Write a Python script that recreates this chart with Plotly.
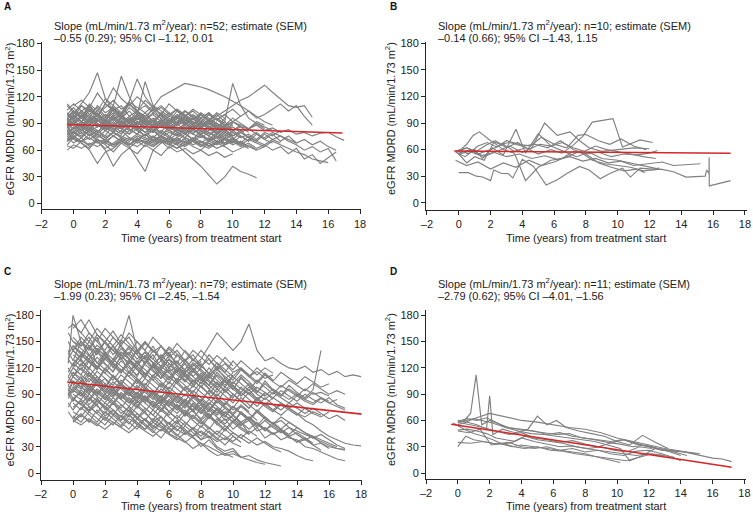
import plotly.graph_objects as go

# ---------------- data ----------------
X_TICK_VALUES = [-2, 0, 2, 4, 6, 8, 10, 12, 14, 16, 18]
X_TICK_LABELS = ["–2", "0", "2", "4", "6", "8", "10", "12", "14", "16", "18"]
Y_TICK_VALUES = [0, 30, 60, 90, 120, 150, 180]
Y_TICK_LABELS = ["0", "30", "60", "90", "120", "150", "180"]

PANEL_LETTERS = ["A", "B", "C", "D"]
SLOPE_LINE1 = [
    "Slope (mL/min/1.73 m<sup>2</sup>/year): n=52; estimate (SEM)",
    "Slope (mL/min/1.73 m<sup>2</sup>/year): n=10; estimate (SEM)",
    "Slope (mL/min/1.73 m<sup>2</sup>/year): n=79; estimate (SEM)",
    "Slope (mL/min/1.73 m<sup>2</sup>/year): n=11; estimate (SEM)",
]
SLOPE_LINE2 = [
    "–0.55 (0.29); 95% CI –1.12, 0.01",
    "–0.14 (0.66); 95% CI –1.43, 1.15",
    "–1.99 (0.23); 95% CI –2.45, –1.54",
    "–2.79 (0.62); 95% CI –4.01, –1.56",
]
X_TITLE = "Time (years) from treatment start"
Y_TITLE = "eGFR MDRD (mL/min/1.73 m<sup>2</sup>)"

# fitted mean slope lines (x endpoints, y endpoints)
RED_X = [[-0.42, 16.9], [-0.28, 17.1], [-0.36, 18.3], [-0.42, 17.2]]
RED_Y = [[88.9, 79.3], [58.4, 55.8], [103.9, 66.8], [55.6, 6.5]]

# Panel A: visit times (years) and per-patient eGFR values
GRID_A = [-0.4, 0.0, 0.5, 1.0, 1.5, 2.0, 2.5, 3.0, 3.5, 4.0, 4.5, 5.0, 5.5, 6.0,
          6.5, 7.0, 7.5, 8.0, 8.5, 9.0, 9.5, 10.0, 10.5, 11.0, 11.5, 12.0, 12.5,
          13.0, 13.5, 14.0, 14.5, 15.0, 15.5, 16.0, 16.5, 17.0]
PATIENTS_A = [
    [85, 92, 88, 95, 90, 84, 88, 93, 86, 90, 95, 88, 92, 85, 90, 94, 88, 86, 90, 84, 88, 92, 86, 84, 88, 82, 85, 80, 83, 78, 80, 76, 79, 80, 75, 71],
    [90, 100, 112, 125, 147, 118, 105, 110, 98, 104, 95, 100, 92, 98, 94, 88, 96, 90, 85, 92],
    [78, 72, 68, 60, 45, 58, 62, 70, 66, 72, 68, 75, 70, 66, 72, 68, 74, 70, 65, 70, 68, 72, 66],
    [95, 88, 100, 92, 105, 96, 110, 143, 120, 104, 98, 106, 95, 102, 90, 98, 94, 100, 92, 96, 88, 90],
    [70, 75, 82, 78, 70, 60, 42, 55, 62, 70, 64, 72, 68, 75, 70, 66, 72, 68, 74, 70, 66, 72, 68, 64],
    [100, 108, 96, 112, 104, 118, 110, 102, 115, 140, 120, 108, 100, 112, 104, 98, 106, 100, 94, 102, 96],
    [82, 78, 86, 80, 74, 82, 76, 70, 64, 50, 36, 60, 68, 72, 66, 74, 70, 64, 70, 66, 72, 68],
    [88, 94, 86, 92, 98, 90, 96, 88, 94, 100, 137, 110, 98, 92, 100, 94, 88, 96, 90, 86],
    [92, 98, 104, 96, 110, 102, 108, 100, 112, 104, 116, 108, 120, 125, 130, 135, 133, 131, 128, 124, 120, 115, 110, 104, 98, 92, 88],
    [78, 80, 74, 82, 76, 72, 80, 74, 70, 76, 72, 68, 74, 70, 66, 58, 50, 42, 32, 22, 30, 42, 36, 33, 29],
    [85, 90, 82, 88, 94, 86, 92, 84, 90, 96, 88, 94, 86, 92, 98, 90, 96, 88, 94, 100, 92, 135, 110, 96, 90, 84],
    [None, 98, 92, 100, 94, 88, 96, 90, 98, 92, 86, 94, 100, 92, 98, 104, 96, 100, 94, 98, 104, 110, 116, 120, 126, 133, 125, 118, 110, 108, 110, 97],
    [70, 74, 80, 72, 78, 70, 76, 82, 74, 70, 78, 72, 76, 70, 74, 68, 72, 66, 70, 74, 66, 70, 64, 68, 62, 66, 60, 64, 56, 62, 50, 55, 45, 52, 58],
    [90, 84, 92, 86, 80, 88, 82, 90, 84, 78, 86, 80, 88, 82, 76, 84, 78, 86, 80, 74, 82, 76, 80, 74, 70, 78, 72, 76, 70, 66, 60, 64, 58, 62, 48],
    [65, 62, 70, 66, 72, 68, 64, 70, 66, 72, 68, 64, 70, 62, 68, 64, 70, 66, 62, 68, 64, 58, 62, 66, 60, 64],
    [105, 112, 104, 110, 100, 108, 116, 106, 112, 104, 110, 102, 108, 100, 106, 98, 104, 96, 102, 94, 100, 92, 98],
    [None, 110, 116, 108, 124, 112, 130, 118, 110, 120, 112, 104, 110, 102, 96, 104, 98, 92, 100, 94],
    [80, 86, 78, 84, 90, 82, 88, 80, 86, 92, 84, 80, 88, 82, 78, 86, 80, 84, 78, 82, 76, 80, 74, 78, 72, 80, 76, 82],
    [96, 90, 98, 92, 86, 94, 88, 96, 90, 84, 92, 86, 94, 88, 82, 90, 84, 92, 86, 80, 88, 82, 86, 80],
    [72, 76, 70, 74, 68, 72, 66, 70, 74, 68, 72, 76, 70, 74, 68, 72, 66, 70, 64, 68, 72, 66, 70, 64, 60],
    [88, 100, 92, 106, 98, 112, 104, 96, 108, 100, 94, 102, 96, 90, 98, 92, 100, 94, 88, 96, 90],
    [None, 90, 86, 94, 88, 82, 90, 84, 92, 86, 80, 88, 94, 86, 92, 98, 90, 96, 102, 94, 100, 106, 98, 104, 96, 100, 106, 112, 104, 110, 98, 88],
    [76, 68, 74, 64, 70, 62, 68, 74, 66, 72, 78, 70, 76, 68, 74, 80, 72, 78, 70, 76, 68, 74, 66, 62],
    [92, 96, 90, 94, 88, 92, 86, 90, 94, 88, 92, 86, 90, 84, 88, 92, 86, 90, 84, 88, 82, 86, 80, 84, 78, 74, 80, 76, 72, 68, 72, 66, 70, 64, 60],
    [84, 80, 76, 82, 78, 74, 80, 76, 72, 78, 74, 70, 76, 72, 78, 74, 70, 76, 72, 68, 74, 70, 66, 72, 68, 64, 70, 66, 62, 58, 55, 50, 48, 46],
    [100, 94, 104, 98, 92, 100, 94, 88, 96, 90, 98, 92, 86, 94, 88, 96, 90, 84, 92, 86],
    [60, 66, 62, 68, 64, 70, 66, 72, 68, 64, 70, 66, 72, 68, 62, 66, 70, 64, 68, 62, 66, 70],
    [112, 104, 98, 106, 100, 94, 102, 96, 90, 98, 92, 86, 94, 88, 96, 90, 84, 92, 86, 90, 84, 88],
    [86, 92, 98, 90, 96, 88, 94, 100, 92, 98, 90, 96, 88, 94, 90, 96, 92, 88, 94, 90, 86, 92, 88, 84, 90, 86, 82],
    [70, 78, 84, 76, 82, 74, 80, 86, 78, 84, 76, 82, 74, 80, 76, 82, 78, 74, 80, 76, 72, 78],
    [94, 102, 110, 100, 108, 98, 106, 96, 104, 94, 102, 92, 100, 90, 98, 88, 96, 86, 94, 84, 92, 82, 88],
    [80, 84, 88, 82, 86, 90, 84, 88, 82, 86, 80, 84, 78, 82, 86, 80, 84, 78, 82, 86, 80, 76],
    [98, 104, 96, 110, 100, 92, 106, 98, 112, 102, 94, 108, 100, 92, 104, 96, 88, 100, 92, 84, 96],
    [75, 82, 90, 84, 78, 86, 80, 74, 82, 88, 80, 74, 82, 76, 70, 78, 84, 76, 70, 78, 72],
    [110, 102, 96, 104, 98, 90, 100, 94, 86, 96, 90, 82, 92, 86, 80, 88, 82, 90, 84, 78, 86, 80, 74],
    [82, 90, 96, 88, 102, 94, 86, 98, 90, 82, 94, 86, 80, 92, 84, 78, 88, 82, 76, 84, 78, 72, 80, 74, 70],
    [66, 74, 68, 62, 72, 66, 58, 68, 62, 56, 66, 60, 54, 64, 58, 62, 56, 60, 54, 58, 52, 56],
    [94, 88, 82, 96, 90, 84, 98, 92, 86, 100, 94, 88, 102, 96, 90, 104, 98, 92, 100, 94, 88, 96, 90, 84, 92, 88],
    [86, 80, 74, 88, 82, 76, 90, 84, 78, 92, 86, 80, 94, 88, 82, 90, 84, 78, 86, 80, 74, 82, 76, 70, 78, 72, 68],
    [102, 96, 110, 104, 98, 112, 106, 100, 114, 108, 102, 110, 104, 98, 106, 100, 94, 102, 96, 90],
    [72, 80, 88, 82, 94, 86, 80, 92, 84, 78, 90, 82, 76, 86, 80, 74, 84, 78, 72, 80, 74, 68, 76, 70],
    [90, 96, 102, 94, 100, 92, 98, 90, 96, 88, 94, 86, 92, 84, 90, 82, 88, 80, 86, 78, 84, 76, 82, 74, 80, 72, 78, 70, 76, 68],
    [80, 74, 70, 78, 72, 68, 76, 70, 66, 74, 68, 64, 72, 66, 62, 70, 64, 60, 68, 62],
    [96, 104, 98, 108, 100, 94, 106, 98, 92, 104, 96, 90, 102, 94, 88, 98, 92, 86, 94, 88, 82, 90],
    [78, 84, 92, 86, 80, 90, 84, 78, 88, 82, 76, 86, 80, 74, 84, 78, 72, 82, 76, 70, 80, 74, 68, 76, 70, 66, 72, 68],
]

# Panel B: irregular visit times per patient
TIMES_B = [
    [0, 0.6, 1.1, 1.5, 2.0, 2.2, 2.7, 3.1, 3.4, 4.0, 4.7, 5.5, 6.2, 6.8, 7.6, 8.2, 8.9, 9.5, 10.3, 10.8, 11.4, 12.2, 12.6],
    [-0.2, 0.5, 1.2, 2, 2.8, 3.5, 4.2, 5, 5.8, 6.5, 7.2, 7.8, 8.4, 9.7, 10.3, 11.4, 12.2],
    [0, 0.8, 1.6, 2.4, 3.2, 4.0, 4.6, 5.4, 6.2, 7.0, 7.6, 8.2, 9.0, 10.0, 11.0, 12.0],
    [-0.2, 0.4, 1.0, 1.5, 2.1, 2.8, 3.6, 4.2, 5.0, 5.8, 6.6, 7.4, 8.2, 9.0, 10.0, 11.0, 12.0, 12.6],
    [0, 0.5, 0.9, 1.3, 2.0, 2.6, 3.2, 4.0, 4.8, 5.6, 6.4, 7.2, 8.0, 8.8, 9.6, 10.4, 11.2, 12.0, 12.5],
    [0, 0.7, 1.4, 2.2, 3.0, 3.8, 4.6, 5.4, 6.2, 7.0, 7.8, 8.6, 9.4, 10.2, 11.0, 11.8, 12.8, 13.5, 14.3, 15.2],
    [-0.2, 0.5, 1.2, 2.0, 2.8, 3.6, 4.4, 5.2, 6.0, 6.8, 7.6, 8.4, 9.2, 10.0, 10.8, 11.6, 12.7, 13.5, 14.3, 15.5, 15.6, 15.74, 15.75, 15.76, 17.1],
    [0, 0.6, 1.2, 1.8, 2.4, 3.0, 3.8, 4.5, 5.2, 6.0, 6.8, 7.5, 8.0, 8.8, 9.5, 10.2, 11.0, 11.8],
    [-0.1, 0.5, 1.0, 1.6, 2.2, 2.8, 3.5, 4.2, 5.0, 5.8, 6.5, 7.2, 8.0, 8.8, 9.6, 10.4, 11.2, 11.7],
    [0, 0.5, 1.1, 1.7, 2.3, 3.0, 3.7, 4.4, 5.1, 5.8, 6.5, 7.2, 7.9, 8.6, 9.3, 10.0, 10.8, 11.6, 12.4],
]
VALUES_B = [
    [34, 34, 30, 29, 25, 37, 33, 33, 28, 49, 41, 20, 26, 33, 41, 37, 27, 33, 39, 29, 39, 38, 39],
    [58, 62, 55, 60, 66, 58, 62, 55, 60, 56, 65, 75, 91, 95, 63, 71, 68],
    [56, 60, 52, 58, 64, 57, 62, 90, 76, 80, 70, 62, 58, 60, 62, 61],
    [57, 52, 60, 50, 62, 54, 83, 56, 78, 64, 58, 52, 57, 50, 48, 44, 40, 38],
    [58, 66, 76, 80, 70, 66, 68, 64, 66, 62, 70, 60, 55, 57, 52, 55, 54, 56, 59],
    [55, 58, 53, 57, 52, 55, 50, 53, 49, 52, 47, 50, 45, 47, 42, 44, 46, 42, 43, 44],
    [48, 42, 46, 38, 45, 40, 48, 42, 46, 52, 58, 48, 44, 42, 40, 36, 38, 35, 29, 30, 37, 33, 51, 19, 25],
    [60, 55, 64, 68, 63, 70, 66, 64, 74, 66, 62, 76, 77, 70, 66, 72, 64, 60],
    [57, 45, 52, 48, 68, 60, 56, 25, 40, 48, 50, 58, 55, 45, 40, 36, 38, 34],
    [58, 62, 58, 65, 70, 62, 68, 60, 66, 64, 68, 62, 58, 64, 60, 58, 55, 52, 50],
]

# Panel C: visit times (years) and per-patient eGFR values
GRID_C = [-0.3, 0.0, 0.5, 1.0, 1.5, 2.0, 2.5, 3.0, 3.5, 4.0, 4.5, 5.0, 5.5, 6.0,
          6.5, 7.0, 7.5, 8.0, 8.5, 9.0, 9.5, 10.0, 10.5, 11.0, 11.5, 12.0, 12.5,
          13.0, 13.5, 14.0, 14.5, 15.0, 15.5, 16.0, 16.5, 17.0, 17.5, 18.0]
PATIENTS_C = [
    [165, 170, 160, 175, 158, 150, 162, 148, 155, 140, 150, 138, 145, 132, 140, 128, 135, 122, 130, 118, 125, 115, 120, 110, 116, 108, 112],
    [125, 180, 150, 140, 155, 135, 145, 130, 138, 125, 132, 120, 128, 115, 122, 110, 118, 105, 112, 100],
    [None, 140, 130, 145, 125, 138, 120, 132, 115, 128, 112, 122, 108, 118, 104, 112, 100, 108, 96, 104, 92, 100, 88, 95, 85, 90],
    [110, 120, 112, 128, 118, 135, 125, 150, 180, 140, 130, 145, 128, 138, 122, 130, 118, 125, 112, 120, 108, 114],
    [None, 100, 110, 95, 105, 90, 98, 85, 92, 80, 88, 75, 82, 70, 78, 65, 72, 60, 68, 55, 62, 50, 58, 45, 52, 40, 46, 38, 42, 35, 38, 32, 34, 30, 28, 26],
    [95, 85, 92, 78, 86, 72, 80, 68, 75, 62, 70, 58, 65, 52, 60, 45, 50, 38, 42, 30, 25, 28, 18, 15, 12, 10],
    [90, 105, 98, 112, 100, 108, 95, 102, 90, 98, 85, 92, 80, 88, 75, 82, 70, 78, 65, 72, 60, 66, 55, 60, 48, 52, 45, 48, 40, 38, 30, 28, 24, 20, 16, 14],
    [130, 140, 132, 145, 136, 150, 140, 135, 142, 130, 138, 125, 132, 120, 128, 115, 122, 130, 145, 160, 150, 140, 150, 170, 140, 128, 132, 125, 120, 118, 122, 115, 118, 112, 116, 110, 112, 110],
    [None, 75, 82, 70, 78, 65, 72, 60, 68, 55, 62, 50, 58, 45, 40, 35, 42, 30, 38, 28, 22, 25, 18, 20, 15, 12, 10, 8],
    [None, 60, 68, 58, 72, 62, 55, 66, 58, 50, 62, 54, 48, 58, 50, 44, 52, 46, 40, 48, 42, 36, 44, 38, 32, 36, 30, 28, 25, 20, 16, 14],
    [140, 128, 150, 135, 120, 138, 125, 115, 130, 118, 108, 125, 112, 102, 118, 106, 98, 110, 100, 92, 105, 96, 88, 98, 90, 84, 92, 86, 80, 88, 82, 78, 85, 80, 76, 72],
    [None, 115, 105, 120, 110, 98, 112, 102, 95, 108, 98, 90, 102, 94, 86, 98, 90, 82, 94, 86, 78, 90, 82, 74, 86, 78, 72, 80, 74, 68, 60, 55, 48, 42, 38, 34, 32, 31],
    [85, 95, 88, 100, 92, 84, 96, 88, 80, 92, 84, 76, 88, 80, 72, 84, 76, 68, 80, 72, 64, 76, 68, 60, 72, 64, 56, 60, 52, 48, 44, 40, 36, 32, 28, 27],
    [None, 155, 145, 160, 150, 140, 155, 145, 135, 150, 140, 130, 145, 135, 125, 140, 130, 120, 135, 125, 115, 128, 118, 110, 120, 112, 105, 115, 108, 102, 110, 104, 98, 102],
    [100, 92, 104, 96, 88, 100, 92, 84, 96, 88, 80, 92, 84, 76, 88, 80, 72, 84, 76, 68, 80, 72, 76, 70],
    [None, 120, 130, 118, 140, 125, 115, 135, 122, 110, 128, 118, 108, 125, 115, 105, 120, 110, 100, 115, 105, 95, 110, 100, 92, 105, 95, 88, 100, 92, 86, 95, 140],
    [70, 62, 75, 66, 58, 70, 62, 54, 66, 58, 50, 62, 54, 46, 58, 50, 42, 54, 46, 38, 50, 42, 35],
    [None, 145, 135, 150, 140, 130, 145, 135, 125, 140, 130, 120, 135, 125, 115, 128, 118, 108, 120, 110, 100, 112],
    [105, 115, 108, 98, 110, 102, 94, 106, 98, 90, 102, 94, 86, 98, 90, 82, 94, 86, 78, 90, 82, 74, 86, 78, 70, 80, 72, 66, 74, 68, 64, 70, 66],
    [None, 80, 72, 85, 76, 68, 80, 72, 64, 76, 68, 60, 72, 64, 56, 68, 60, 52, 64, 56, 48, 58, 50, 44],
    [None, 165, 175, 160, 150, 165, 155, 145, 160, 150, 140, 155, 145, 135, 148, 138, 128, 140, 130, 120, 132, 122],
    [90, 82, 95, 86, 78, 90, 82, 74, 86, 78, 70, 82, 74, 66, 78, 70, 62, 74, 66, 58, 70, 62, 54, 64, 56, 48, 58, 50, 44, 52, 46, 40, 44, 38, 32, 28],
    [None, 130, 122, 135, 126, 118, 130, 122, 114, 126, 118, 110, 122, 114, 106, 118, 110, 102, 114, 106, 98, 110, 102, 94, 106, 98, 90, 100, 94, 88, 96, 90, 92, 88],
    [120, 110, 125, 115, 105, 120, 110, 100, 115, 105, 95, 110, 100, 90, 105, 95, 85, 100, 90, 80, 95, 85],
    [None, 65, 58, 70, 62, 55, 66, 58, 50, 62, 54, 46, 58, 50, 42, 54, 46, 38, 48, 40, 32, 42, 35],
    [75, 85, 78, 70, 82, 74, 66, 78, 70, 62, 74, 66, 58, 70, 62, 54, 66, 58, 50, 62, 54],
    [None, 110, 102, 115, 106, 98, 110, 102, 94, 106, 98, 90, 102, 94, 86, 98, 90, 82, 94, 86, 78, 90, 82, 74, 84, 76, 70, 78, 72, 66, 74, 68, 64, 70],
    [150, 140, 155, 145, 135, 150, 140, 130, 145, 135, 125, 140, 130, 120, 135, 125, 115, 128],
    [None, 95, 88, 100, 92, 84, 96, 88, 80, 92, 84, 76, 88, 80, 72, 84, 76, 68, 80, 72, 64, 76, 68, 60, 70, 62, 56, 64, 58, 52],
    [None, 85, 78, 72, 84, 76, 68, 60, 72, 64, 56, 48, 40, 52, 44, 36, 28, 34, 26, 20, 22, 18],
    [115, 125, 118, 110, 122, 114, 106, 118, 110, 102, 114, 106, 98, 110, 102, 94, 106, 98, 90, 102, 94, 86, 98, 90, 82, 92, 84],
    [None, 135, 128, 120, 132, 124, 116, 128, 120, 112, 124, 116, 108, 120, 112, 104, 116, 108, 100, 112, 104, 96, 108, 100, 92, 102, 94, 88, 96, 90, 84, 92, 86, 80, 84],
    [95, 105, 98, 90, 102, 94, 86, 98, 90, 82, 94, 86, 78, 90, 82, 74, 86, 78, 70, 82, 74],
    [None, 60, 55, 62, 56, 50, 58, 52, 46, 54, 48, 42, 50, 44, 38, 46, 40, 34, 30, 25, 20, 22, 18],
    [None, 170, 160, 150, 165, 155, 145, 158, 148, 138, 150, 140, 130, 142, 132],
    [88, 98, 90, 82, 94, 86, 78, 90, 82, 74, 86, 78, 70, 82, 74, 66, 78, 70, 62, 74, 66, 58, 70, 62, 54, 64, 56, 50, 58, 52, 46, 42, 38, 34, 30],
    [None, 125, 118, 130, 122, 114, 126, 118, 110, 122, 114, 106, 118, 110, 102, 114, 106, 98, 110, 102, 94, 104, 96, 90, 98, 92, 86, 94, 88, 82, 90, 84, 80, 86, 78, 74],
    [None, 105, 98, 92, 104, 96, 88, 100, 92, 84, 96, 88, 80, 92, 84, 76, 88, 80, 72, 84, 76, 68, 78, 70],
    [80, 72, 84, 76, 68, 80, 72, 64, 76, 68, 60, 72, 64, 56, 66, 58, 50, 60, 52, 44, 54, 46, 40, 48, 42],
    [None, 145, 138, 130, 142, 134, 126, 138, 130, 122, 134, 126, 118, 130, 122, 114, 126, 118, 110, 122, 114, 106, 118, 110, 102, 112, 104, 98, 106, 100, 94, 102, 96, 90, 94, 90],
    [None, 150, 142, 134, 146, 138, 130, 142, 134, 126, 138, 130, 122, 134, 126, 118, 130, 122, 114, 126, 118, 110, 120, 112, 104, 114, 106],
    [None, 100, 92, 84, 96, 88, 80, 92, 84, 76, 88, 80, 72, 84, 76, 68, 80, 72, 64, 74, 66, 58, 68, 60, 52, 60, 52, 46, 52, 44, 38, 42, 34, 28],
    [130, 122, 135, 126, 118, 130, 122, 114, 126, 118, 110, 122, 114, 106, 118, 110, 102, 112, 104, 96, 106, 98, 90],
    [None, 90, 84, 96, 88, 80, 92, 84, 76, 88, 80, 72, 84, 76, 68, 78, 70, 62, 72, 64, 56, 66, 58, 50, 58, 50, 44, 50, 42, 36, 40, 32, 26],
    [None, 120, 112, 104, 116, 108, 100, 112, 104, 96, 108, 100, 92, 104, 96, 88, 100, 92, 84, 96, 88, 80, 92, 84, 76, 86, 78, 72, 80, 74, 68, 74, 68, 62, 66, 60],
    [160, 150, 145, 155, 140, 150, 135, 145, 130, 140, 125, 135, 120, 130, 115, 125, 110, 120],
    [None, 70, 64, 76, 68, 60, 72, 64, 56, 68, 60, 52, 64, 56, 48, 58, 50, 42, 52, 44, 38, 46, 40, 34, 40, 34, 28, 24],
    [None, 110, 120, 112, 104, 118, 110, 102, 116, 108, 100, 112, 104, 96, 108, 100, 92, 104, 96, 88, 98, 90, 82, 92, 84, 78, 86, 80, 74, 80, 74, 68],
    [135, 145, 138, 130, 142, 134, 126, 138, 130, 122, 134, 126, 118, 130, 122, 114, 124, 116, 108, 118, 110, 102, 112, 104, 96],
    [None, 85, 78, 90, 82, 75, 86, 78, 70, 82, 74, 66, 78, 70, 62, 72, 64, 56, 66, 58, 50, 60, 52, 46],
    [None, 125, 135, 128, 120, 132, 124, 116, 128, 120, 112, 124, 116, 108, 120, 112, 104, 114, 106, 98, 108, 100, 92, 102, 94, 88, 96, 90, 84, 90, 84, 80, 86, 82],
    [100, 110, 102, 94, 106, 98, 90, 102, 94, 86, 98, 90, 82, 94, 86, 78, 88, 80, 72, 82, 74, 66, 76, 68, 60],
    [None, 140, 150, 142, 158, 148, 140, 152, 144, 136, 148, 140, 132, 144, 136, 128, 140, 132, 124, 134, 126, 118, 128, 120, 112, 120, 114],
    [None, 58, 66, 60, 54, 64, 58, 52, 62, 56, 50, 58, 52, 46, 54, 48, 42, 48, 42, 36, 40, 34, 30],
    [110, 102, 96, 108, 100, 92, 104, 96, 88, 100, 92, 84, 96, 88, 80, 90, 82, 74, 84, 76, 68, 76, 68, 62, 70, 62, 56],
    [None, 95, 105, 98, 90, 102, 94, 86, 98, 90, 82, 94, 86, 78, 88, 80, 72, 82, 74, 66, 74, 66, 58, 64, 56, 50, 54, 48, 42, 46, 40, 34],
]

# Panel D: irregular visit times per patient
TIMES_D = [
    [0, 1, 2, 3, 4, 5, 6, 7, 8, 9, 10, 11, 12, 13, 14, 15, 16, 16.6, 17.2],
    [0, 0.4, 0.8, 1.15, 1.5, 2.0, 2.6, 3.2, 4.0, 4.8, 5.6, 6.4, 7.2, 8.0, 8.8, 9.6, 10.4, 11.2, 12.0, 12.8, 13.6, 14.4, 15.2],
    [0, 0.6, 1.2, 1.8, 2.0, 2.2, 2.8, 3.6, 4.4, 5.0, 5.6, 6.2, 6.8, 7.6, 8.4, 9.2, 10.0, 10.8, 11.6, 12.4, 13.2],
    [0, 0.5, 1.0, 1.6, 2.2, 2.8, 3.4, 4.0, 4.8, 5.6, 6.4, 7.2, 8.0, 8.8, 9.6, 10.2],
    [0, 0.8, 1.6, 2.4, 3.2, 4.0, 4.8, 5.6, 6.4, 7.2, 8.0, 8.8, 9.6, 10.4, 11.2, 12.0, 12.8, 13.5, 14.0],
    [0, 0.6, 1.2, 1.8, 2.4, 3.0, 3.6, 4.2, 5.0, 5.8, 6.6, 7.4, 8.2, 9.0, 9.8, 10.6, 11.4, 12.2],
    [0, 0.5, 1.0, 1.5, 2.0, 2.5, 3.0, 3.8, 4.6, 5.4, 6.2, 7.0, 7.8, 8.6, 9.4, 10.2, 11.0, 11.8, 12.6, 13.4, 14.2, 15.0],
    [-0.3, 0.4, 1.0, 1.6, 2.2, 2.8, 3.4, 4.0, 4.8, 5.6, 6.4, 7.2, 8.0, 8.8, 9.6, 10.4, 11.2, 12.0, 12.8, 13.6],
    [0, 0.6, 1.2, 1.8, 2.4, 3.0, 3.8, 4.6, 5.4, 6.2, 7.0, 7.8, 8.6, 9.4, 10.2, 10.8, 11.6, 12.4, 13.2, 14.0],
    [0, 0.7, 1.4, 2.1, 2.8, 3.5, 4.2, 5.0, 5.8, 6.6, 7.4, 8.2, 9.0, 9.8, 10.6, 11.4, 12.2, 13.0],
    [0, 0.8, 1.6, 2.4, 3.2, 4.0, 4.8, 5.6, 6.4, 7.2, 8.0, 8.8, 9.6, 10.4, 11.2, 12.0, 12.8, 13.6, 14.4],
]
VALUES_D = [
    [58, 62, 68, 64, 60, 58, 55, 52, 50, 46, 40, 36, 32, 28, 25, 21, 17, 16, 13],
    [57, 60, 68, 112, 55, 60, 56, 52, 50, 48, 44, 46, 42, 40, 38, 36, 38, 34, 30, 26, 25, 24, 22],
    [60, 58, 55, 50, 88, 44, 50, 46, 50, 65, 55, 60, 52, 48, 45, 42, 36, 32, 43, 35, 28],
    [30, 42, 38, 36, 34, 33, 30, 32, 30, 28, 26, 24, 22, 18, 15, 12],
    [35, 34, 36, 33, 35, 30, 28, 30, 26, 28, 24, 26, 22, 20, 25, 26, 22, 18, 14],
    [49, 50, 48, 45, 40, 38, 36, 42, 38, 36, 34, 30, 28, 30, 26, 24, 30, 28],
    [55, 58, 62, 60, 58, 55, 52, 50, 48, 46, 44, 45, 40, 38, 35, 33, 30, 32, 28, 26, 24, 22],
    [57, 50, 45, 42, 38, 33, 35, 40, 36, 33, 30, 31, 28, 26, 24, 22, 20, 22, 20, 18],
    [59, 62, 60, 63, 58, 52, 48, 45, 44, 42, 40, 38, 36, 32, 28, 14, 20, 28, 25, 20],
    [48, 46, 50, 32, 34, 30, 28, 30, 26, 25, 22, 20, 18, 16, 14, 18, 22, 20],
    [58, 55, 52, 48, 44, 46, 40, 38, 35, 37, 33, 30, 34, 38, 33, 30, 27, 24, 20],
]

# ---------------- figure ----------------
W, H = 753, 517
FONT = "Liberation Sans, Arial, Helvetica, sans-serif"
GREY = "rgb(128,128,128)"
RED = "rgb(214,38,40)"
AX = "#262626"


def join_grid(grid, patients):
    xs, ys = [], []
    for vals in patients:
        for t, v in zip(grid, vals):
            xs.append(t)
            ys.append(v)
        xs.append(None)
        ys.append(None)
    return xs, ys


def join_irregular(times, values):
    xs, ys = [], []
    for ts, vs in zip(times, values):
        xs.extend(ts)
        ys.extend(vs)
        xs.append(None)
        ys.append(None)
    return xs, ys


panel_lines = [
    join_grid(GRID_A, PATIENTS_A),
    join_irregular(TIMES_B, VALUES_B),
    join_grid(GRID_C, PATIENTS_C),
    join_irregular(TIMES_D, VALUES_D),
]

# plot-area geometry in pixels: left, right, top, bottom
PX = [(41.7, 361.0, 41.7, 209.3), (426.0, 746.5, 41.7, 210.0),
      (41.0, 361.5, 309.7, 479.7), (426.0, 746.0, 309.7, 478.7)]
XR = [[-2.0, 18.06], [-2.06, 18.1], [-2.0, 18.03], [-2.0, 18.1]]
YR = [[-6.4, 181.8], [-8.2, 181.8], [-7.6, 186.4], [-6.5, 186.4]]

fig = go.Figure()
for i in range(4):
    suffix = "" if i == 0 else str(i + 1)
    xs, ys = panel_lines[i]
    fig.add_trace(go.Scatter(x=xs, y=ys, mode="lines", xaxis="x" + suffix, yaxis="y" + suffix,
                             line=dict(color=GREY, width=1.15), connectgaps=False,
                             hoverinfo="skip", showlegend=False))
    fig.add_trace(go.Scatter(x=RED_X[i], y=RED_Y[i], mode="lines", xaxis="x" + suffix, yaxis="y" + suffix,
                             line=dict(color=RED, width=1.6), hoverinfo="skip", showlegend=False))

layout = dict(width=W, height=H, margin=dict(l=0, r=0, t=0, b=0, autoexpand=False),
              paper_bgcolor="white", plot_bgcolor="white",
              font=dict(family=FONT, size=11, color="#222"), showlegend=False)

annotations = []
for i in range(4):
    l, r, t, b = PX[i]
    suffix = "" if i == 0 else str(i + 1)
    common = dict(showline=True, linecolor=AX, linewidth=1, ticks="outside", ticklen=4,
                  tickwidth=1, tickcolor=AX, showgrid=False, zeroline=False, automargin=False,
                  tickfont=dict(family=FONT, size=11, color="#222"))
    layout["xaxis" + suffix] = dict(common, domain=[l / W, r / W], range=XR[i],
                                    tickvals=X_TICK_VALUES, ticktext=X_TICK_LABELS,
                                    anchor="y" + suffix)
    layout["yaxis" + suffix] = dict(common, domain=[1 - b / H, 1 - t / H], range=YR[i],
                                    tickvals=Y_TICK_VALUES, ticktext=Y_TICK_LABELS,
                                    anchor="x" + suffix)
    # panel letter
    lx = 2 if i % 2 == 0 else 388
    ly = 6.5 if i < 2 else 271
    annotations.append(dict(text="<b>" + PANEL_LETTERS[i] + "</b>", x=lx / W, y=1 - ly / H,
                            xref="paper", yref="paper", xanchor="left", yanchor="middle",
                            showarrow=False, font=dict(size=10, color="#111")))
    # slope text
    sx = 51.5 if i % 2 == 0 else 436
    sy1 = 25 if i < 2 else 283
    sy2 = 38.3 if i < 2 else 296
    annotations.append(dict(text=SLOPE_LINE1[i], x=sx / W, y=1 - sy1 / H, xref="paper", yref="paper",
                            xanchor="left", yanchor="middle", showarrow=False, font=dict(size=11)))
    annotations.append(dict(text=SLOPE_LINE2[i], x=sx / W, y=1 - sy2 / H, xref="paper", yref="paper",
                            xanchor="left", yanchor="middle", showarrow=False, font=dict(size=11)))
    # axis titles
    xt_y = 238 if i < 2 else 506
    annotations.append(dict(text=X_TITLE, x=((l + r) / 2) / W, y=1 - xt_y / H, xref="paper", yref="paper",
                            xanchor="center", yanchor="middle", showarrow=False, font=dict(size=11)))
    yt_x = 9.5 if i % 2 == 0 else 390
    yt_y = 119 if i < 2 else 390
    annotations.append(dict(text=Y_TITLE, x=yt_x / W, y=1 - yt_y / H, xref="paper", yref="paper",
                            xanchor="center", yanchor="middle", textangle=-90, showarrow=False,
                            font=dict(size=11)))

layout["annotations"] = annotations
fig.update_layout(**layout)
fig.write_html("out.html", config={"displayModeBar": False},
               post_script="document.body.style.margin='0';document.body.style.padding='0';"
                           "document.documentElement.style.margin='0';")
